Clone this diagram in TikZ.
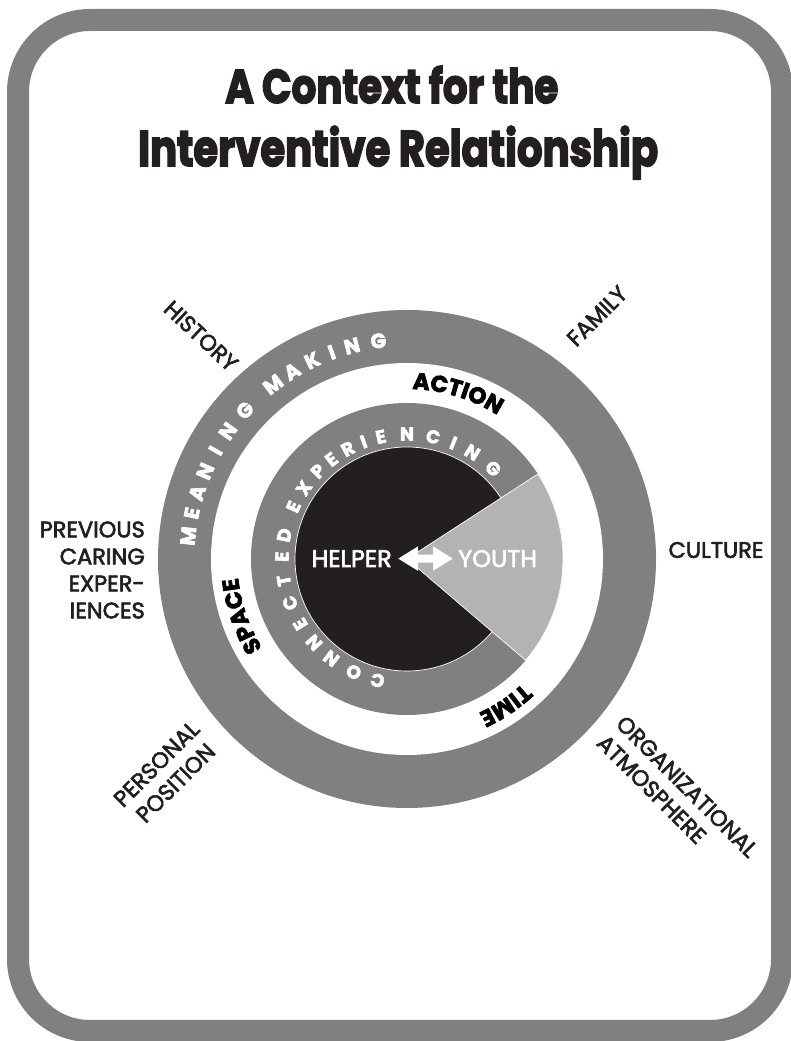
\documentclass[tikz,border=0pt]{standalone}
\usepackage{fontspec}
\usepackage{graphicx}
\usetikzlibrary{decorations.text,arrows.meta}
\setmainfont{Poppins}
\newfontfamily\titlefont{Poppins}[BoldFeatures={FakeBold=3.5}]
\newfontfamily\heavyfont{Poppins}[BoldFeatures={FakeBold=3}]
\newfontfamily\labfont{Poppins}[UprightFeatures={FakeBold=2.6}]
\definecolor{ringgray}{RGB}{128,128,128}
\definecolor{youthgray}{RGB}{179,179,179}
\definecolor{ink}{RGB}{35,31,32}
\newcommand\actfont{\heavyfont\bfseries\fontsize{23}{23}\selectfont}
\tikzset{
  titletext/.style={inner sep=0pt, text=ink, font=\titlefont\bfseries},
  outerlabel/.style={inner sep=0pt, text=ink, font=\labfont\fontsize{22.5}{27}\selectfont},
  mmletter/.style={inner sep=0pt, text=white, font=\heavyfont\bfseries\fontsize{20.5}{20.5}\selectfont},
  celetter/.style={inner sep=0pt, text=white, font=\heavyfont\bfseries\fontsize{18.5}{18.5}\selectfont},
  pairtext/.style={inner sep=0pt, text=white, font=\labfont\fontsize{24}{24}\selectfont},
  arctext/.style={decorate, decoration={text along path, text align=center, text={|\actfont|#1}}},
  relarrow/.style={white, line width=8pt, {Triangle[width=23pt,length=20pt]}-{Triangle[width=23pt,length=20pt]}},
}
\begin{document}
\begin{tikzpicture}[x=1pt,y=1pt]
\useasboundingbox (0,0) rectangle (791,1041);
\fill[white] (0,0) rectangle (791,1041);
\draw[ringgray, line width=22pt, rounded corners=72pt, fill=white] (18,10) rectangle (782,1021);

\node[titletext, anchor=base west] (title1) at (225,938) {\resizebox{333pt}{37pt}{A Context for the}};
\node[titletext, anchor=base west] (title2) at (138,875) {\resizebox{520pt}{40pt}{Interventive Relationship}};

\coordinate (C) at (407,482);
\fill[ringgray] (C) circle[radius=249];
\fill[white] (C) circle[radius=196];
\fill[ringgray] (C) circle[radius=156];
\filldraw[fill=ink, draw=white, line width=0.7pt] (C) circle[radius=112];
\filldraw[fill=youthgray, draw=white, line width=0.7pt] (C) -- ([shift={(33:156)}]C) arc[start angle=33, end angle=-40.5, radius=156] -- cycle;

\foreach \a/\ch [count=\i] in {174/M,168/E,162.5/A,156.5/N,150.5/I,144.5/N,137.5/G,127.5/M,121.5/A,115.5/K,110/I,104.5/N,97.5/G}
  \node[mmletter, rotate=\a-90] (mm\i) at ([shift={(\a:220)}]C) {\ch};

\foreach \a/\ch [count=\i] in {256.3/C,244.8/O,232.7/N,222/N,211.4/E,200.6/C,190/T,178.9/E,169/D,155.3/E,145.5/X,135.4/P,127.2/E,118.2/R,110.3/I,102.1/E,90/N,77.9/C,68.2/I,58.5/N,46.4/G}
  \node[celetter, rotate=\a-90] (ce\i) at ([shift={(\a:125)}]C) {\ch};

\path[arctext=ACTION] ([shift={(90:170)}]C) arc[start angle=90, end angle=56, radius=170];
\path[arctext=SPACE] ([shift={(215:170)}]C) arc[start angle=215, end angle=183, radius=170];
\path[arctext=TIME] ([shift={(-40:170)}]C) arc[start angle=-40, end angle=-72, radius=170];

\node[pairtext, anchor=base east] (helper) at (392,474) {HELPER};
\node[pairtext, anchor=base west] (youth) at (458,474) {YOUTH};
\draw[relarrow] ([xshift=6pt]helper.east) -- ([xshift=-5pt]youth.west);

\node[outerlabel, rotate=-43] (history) at (201,705) {HISTORY};
\node[outerlabel, rotate=45] (family) at (597,725) {FAMILY};
\node[outerlabel] (culture) at (716,491) {CULTURE};
\node[outerlabel, align=right, anchor=east] (previous) at (145,471) {PREVIOUS\\CARING\\EXPER-\\IENCES};
\node[outerlabel, align=center, rotate=45] (personal) at (166,267.5) {PERSONAL\\POSITION};
\node[outerlabel, align=left, rotate=-45] (organizational) at (677.5,245) {ORGANIZATIONAL\\ATMOSPHERE};
\end{tikzpicture}
\end{document}
